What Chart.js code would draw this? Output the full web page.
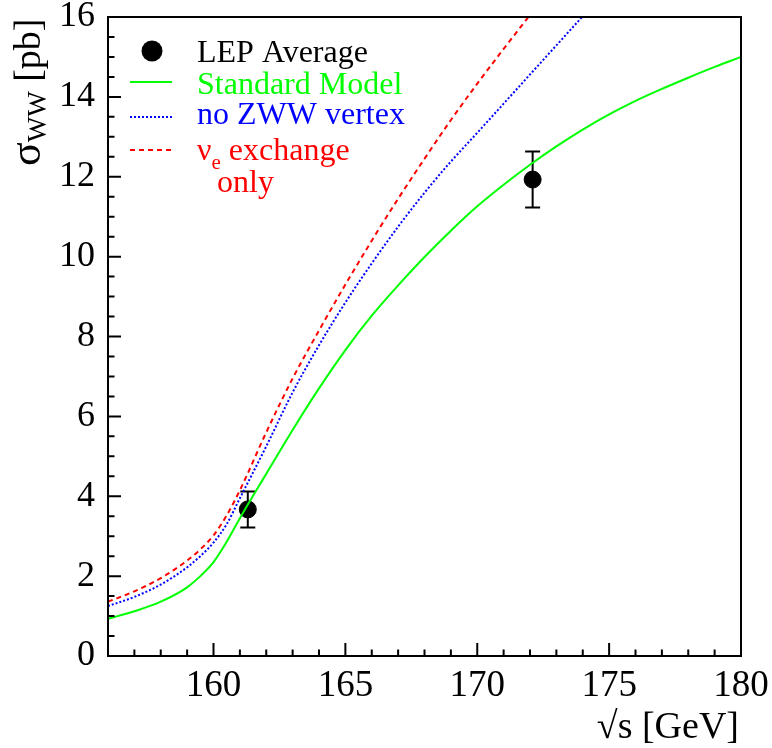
<!DOCTYPE html>
<html lang="en">
<head>
<meta charset="UTF-8">
<title>WW cross section</title>
<script src="https://cdn.jsdelivr.net/npm/chart.js"></script>
<style>
  html, body { margin: 0; padding: 0; background: #fff; }
  canvas { display: block; }
</style>
</head>
<body>
<canvas id="myChart" width="772" height="748"></canvas>
<script>
// sqrt(s) in GeV, sigma_WW in pb
const smX = [156, 157, 158, 159, 159.5, 160, 160.5, 161, 162, 163, 164, 165, 166, 167, 168, 169, 170, 171, 172, 173, 174, 175, 176, 177, 178, 179, 180];
const smY = [0.93, 1.12, 1.36, 1.72, 2.0, 2.35, 2.86, 3.45, 4.56, 5.66, 6.7, 7.66, 8.52, 9.28, 9.99, 10.65, 11.26, 11.8, 12.3, 12.76, 13.18, 13.56, 13.9, 14.2, 14.48, 14.75, 15.0];

const noZwwX = [156, 157, 158, 159, 159.5, 160, 160.5, 161, 162, 163, 164, 165, 166, 167, 168, 169, 170, 171, 172, 173, 174];
const noZwwY = [1.25, 1.48, 1.79, 2.22, 2.5, 2.84, 3.3, 3.95, 5.25, 6.6, 7.78, 8.85, 9.83, 10.75, 11.6, 12.38, 13.1, 13.83, 14.56, 15.29, 16.02];

const nueX = [156, 157, 158, 159, 159.5, 160, 160.5, 161, 162, 163, 164, 165, 166, 167, 168, 169, 170, 171, 172];
const nueY = [1.36, 1.62, 1.95, 2.39, 2.67, 3.02, 3.52, 4.15, 5.6, 6.95, 8.15, 9.3, 10.4, 11.45, 12.45, 13.42, 14.33, 15.2, 16.05];

const lepX = [161.3, 172.1];
const lepY = [3.67, 11.93];
const lepErr = [0.45, 0.7];

const xTicks = [160, 165, 170, 175, 180];
const yTicks = [0, 2, 4, 6, 8, 10, 12, 14, 16];

const FONT = "'Liberation Serif', 'Times New Roman', serif";

function pts(xs, ys) {
    return xs.map((x, i) => ({ x: x, y: ys[i] }));
}

// frame, inward ticks, error bars, legend and axis titles
const decorations = {
    id: 'decorations',
    beforeDatasetsDraw(chart) {
        const ctx = chart.ctx, xs = chart.scales.x, ys = chart.scales.y;
        ctx.save();
        ctx.strokeStyle = '#000';
        ctx.lineWidth = 2;
        for (let i = 0; i < lepX.length; i++) {
            const px = xs.getPixelForValue(lepX[i]);
            const top = ys.getPixelForValue(lepY[i] + lepErr[i]);
            const bot = ys.getPixelForValue(lepY[i] - lepErr[i]);
            ctx.beginPath();
            ctx.moveTo(px, top); ctx.lineTo(px, bot);
            ctx.moveTo(px - 7.5, top); ctx.lineTo(px + 7.5, top);
            ctx.moveTo(px - 7.5, bot); ctx.lineTo(px + 7.5, bot);
            ctx.stroke();
        }
        ctx.restore();
    },
    afterDraw(chart) {
        const ctx = chart.ctx, a = chart.chartArea;
        const xs = chart.scales.x, ys = chart.scales.y;
        ctx.save();
        ctx.strokeStyle = '#000';
        ctx.lineWidth = 2;
        ctx.strokeRect(a.left, a.top, a.right - a.left, a.bottom - a.top);

        // ticks pointing into the frame
        ctx.beginPath();
        for (let v = xs.min; v <= xs.max + 1e-9; v += 1) {
            const px = xs.getPixelForValue(v);
            const len = v % 5 === 0 ? 13 : 6.5;
            ctx.moveTo(px, a.bottom); ctx.lineTo(px, a.bottom - len);
        }
        for (let v = ys.min; v <= ys.max + 1e-9; v += 0.5) {
            const py = ys.getPixelForValue(v);
            const len = v % 2 === 0 ? 13 : 6.5;
            ctx.moveTo(a.left, py); ctx.lineTo(a.left + len, py);
        }
        ctx.stroke();

        // legend
        const L = a.left, T = a.top;
        const ds = chart.data.datasets;
        ctx.textBaseline = 'alphabetic';
        ctx.textAlign = 'left';
        ctx.font = '32px ' + FONT;

        ctx.fillStyle = '#000';
        ctx.beginPath();
        ctx.arc(L + 44, T + 34, 10.5, 0, Math.PI * 2);
        ctx.fill();
        ctx.fillText(ds[3].label, L + 89, T + 45);

        const lineItem = (d, y) => {
            ctx.save();
            ctx.strokeStyle = d.borderColor;
            ctx.lineWidth = d.borderWidth;
            ctx.setLineDash(d.borderDash || []);
            ctx.beginPath();
            ctx.moveTo(L + 22, T + y); ctx.lineTo(L + 64, T + y);
            ctx.stroke();
            ctx.restore();
            ctx.fillStyle = d.borderColor;
        };
        lineItem(ds[0], 65);
        ctx.fillText(ds[0].label, L + 89, T + 77);
        lineItem(ds[1], 100);
        ctx.fillText(ds[1].label, L + 89, T + 107);
        lineItem(ds[2], 133);
        let tx = L + 89;
        ctx.fillText('\u03bd', tx, T + 143);
        tx += ctx.measureText('\u03bd').width;
        ctx.font = '21px ' + FONT;
        ctx.fillText('e', tx, T + 152);
        tx += ctx.measureText('e').width + 8;
        ctx.font = '32px ' + FONT;
        ctx.fillText('exchange', tx, T + 143);
        ctx.fillText('only', L + 109, T + 175);

        // x title
        ctx.fillStyle = '#000';
        ctx.font = '38px ' + FONT;
        ctx.textAlign = 'right';
        ctx.fillText('\u221as [GeV]', a.right - 2, 738);

        // y title, rotated
        ctx.translate(40, 166);
        ctx.rotate(-Math.PI / 2);
        ctx.textAlign = 'left';
        let ux = 0;
        ctx.font = '44px ' + FONT;
        ctx.fillText('\u03c3', ux, 0);
        ux += ctx.measureText('\u03c3').width;
        ctx.font = '27px ' + FONT;
        ctx.fillText('WW', ux, 6);
        ux += ctx.measureText('WW').width;
        ctx.font = '38px ' + FONT;
        ctx.fillText(' [pb]', ux, 0);
        ctx.restore();
    }
};

const ctx = document.getElementById('myChart');

const myChart = new Chart(ctx, {
    type: 'line',
    data: {
        datasets: [{
            label: 'Standard Model',
            data: pts(smX, smY),
            borderColor: '#00ff00',
            borderWidth: 2,
            pointRadius: 0,
            cubicInterpolationMode: 'monotone'
        }, {
            label: 'no ZWW vertex',
            data: pts(noZwwX, noZwwY),
            borderColor: '#0000ff',
            borderWidth: 2,
            borderDash: [2, 2],
            pointRadius: 0,
            cubicInterpolationMode: 'monotone'
        }, {
            label: 'exchange only',
            data: pts(nueX, nueY),
            borderColor: '#ff0000',
            borderWidth: 2,
            borderDash: [5, 4],
            pointRadius: 0,
            cubicInterpolationMode: 'monotone'
        }, {
            type: 'scatter',
            label: 'LEP Average',
            data: pts(lepX, lepY),
            backgroundColor: '#000',
            borderColor: '#000',
            pointRadius: 8.5,
            showLine: false
        }]
    },
    options: {
        responsive: false,
        animation: false,
        devicePixelRatio: 1,
        layout: { padding: { left: 0, top: 17, right: 31, bottom: 0 } },
        plugins: {
            legend: { display: false },
            tooltip: { enabled: false }
        },
        scales: {
            x: {
                type: 'linear',
                min: 156,
                max: 180,
                grid: { display: false, drawTicks: false },
                border: { display: false },
                afterBuildTicks: s => { s.ticks = xTicks.map(v => ({ value: v })); },
                afterFit: s => { s.height = 92; s.paddingLeft = 0; s.paddingRight = 0; },
                ticks: {
                    padding: 8,
                    maxRotation: 0,
                    color: '#000',
                    font: { family: FONT, size: 37 }
                }
            },
            y: {
                min: 0,
                max: 16,
                grid: { display: false, drawTicks: false },
                border: { display: false },
                afterBuildTicks: s => { s.ticks = yTicks.map(v => ({ value: v })); },
                afterFit: s => { s.width = 108; s.paddingTop = 0; s.paddingBottom = 0; },
                ticks: {
                    padding: 13,
                    color: '#000',
                    font: { family: FONT, size: 36 }
                }
            }
        }
    },
    plugins: [decorations]
});
</script>
</body>
</html>
